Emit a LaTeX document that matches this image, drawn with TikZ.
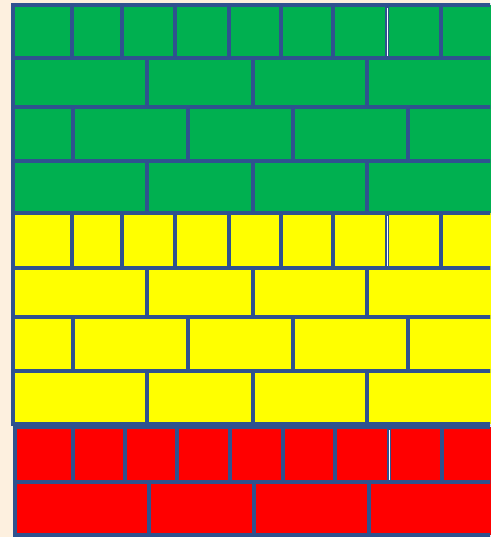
\documentclass[tikz,border=0pt]{standalone}
\usepackage{xcolor}
\usepackage{tikz}

\definecolor{wallbg}{HTML}{FDF0DF}
\definecolor{mortar}{HTML}{2F528F}
\definecolor{brickgreen}{HTML}{00B050}
\definecolor{brickyellow}{HTML}{FFFF00}
\definecolor{brickred}{HTML}{FF0000}

\pgfdeclarelayer{bricklayer}
\pgfsetlayers{bricklayer,main}

\tikzset{
  brick/.style={draw=mortar, line width=3.6pt},
  seam/.style={draw=white, line width=1pt},
}

% one course of bricks: colour, top, bottom, first joint, other joints
\newcommand{\brickrow}[5]{%
  \foreach \x [remember=\x as \lastx (initially #4)] in {#5}{
    \begin{pgfonlayer}{bricklayer}
      \fill[#1] (\lastx,#2) rectangle (\x,#3);
    \end{pgfonlayer}
    \draw[brick] (\lastx,#2) rectangle (\x,#3);
  }
}

\begin{document}
\begin{tikzpicture}[x=1pt,y=-1pt]
    \useasboundingbox (0,0) rectangle (490,537);
    \begin{pgfonlayer}{bricklayer}
      \fill[wallbg] (0,0) rectangle (490,537);
    \end{pgfonlayer}
    \clip (0,0) rectangle (490,537);

    % Green courses
    \brickrow{brickgreen}{5}{58}{13}{72,122,175,229,281,333,387,441,530}
    \brickrow{brickgreen}{58}{107}{13}{147,253,367,530}
    \brickrow{brickgreen}{107}{161}{13}{73,188,293,408,530}
    \brickrow{brickgreen}{161}{213}{13}{147,253,367,530}

    % Yellow courses
    \brickrow{brickyellow}{213}{268}{13}{72,122,175,229,281,333,387,441,530}
    \brickrow{brickyellow}{268}{317}{13}{147,253,367,530}
    \brickrow{brickyellow}{317}{371}{13}{73,188,293,408,530}
    \brickrow{brickyellow}{371}{424}{13}{147,253,367,530}

    % Red courses
    \brickrow{brickred}{427}{482}{15}{73,125,177,230,283,335,389,442,530}
    \brickrow{brickred}{482}{535}{15}{149,254,369,530}

    % small gaps between the pieces
    \draw[seam] (387,8) -- (387,56);
    \draw[seam] (387,216) -- (387,266);
    \draw[seam] (389,430) -- (389,480);
\end{tikzpicture}
\end{document}
